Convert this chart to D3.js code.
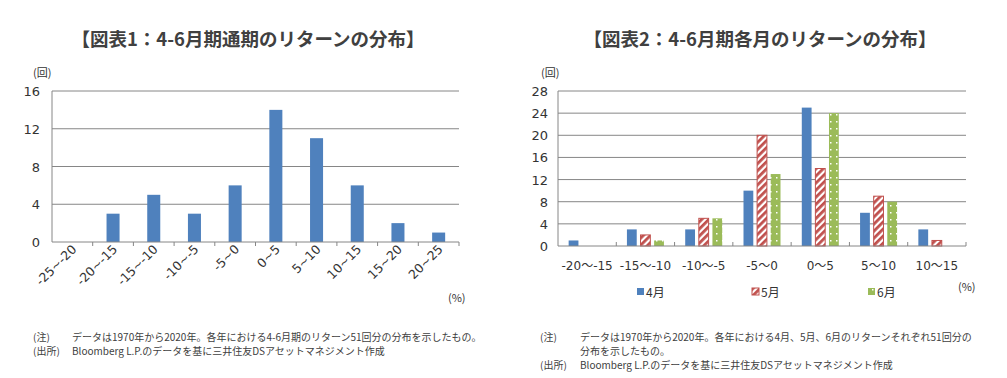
<!DOCTYPE html>
<html>
<head>
<meta charset="utf-8">
<script src="https://cdn.jsdelivr.net/npm/d3@7"></script>
<style>
  body { margin: 0; background: #fff; }
  text { font-family: "DejaVu Sans", "Noto Sans CJK JP", sans-serif; fill: #333; }
  .jp { font-family: "Noto Sans CJK JP", sans-serif; }
</style>
</head>
<body>
<script>
// chart 1 data
const cats1 = ["-25~-20", "-20~-15", "-15~-10", "-10~-5", "-5~0", "0~5", "5~10", "10~15", "15~20", "20~25"];
const counts1 = [0, 3, 5, 3, 6, 14, 11, 6, 2, 1];
const ticks1 = [0, 4, 8, 12, 16];

// chart 2 data
const cats2 = ["-20～-15", "-15～-10", "-10～-5", "-5～0", "0～5", "5～10", "10～15"];
const months = ["4月", "5月", "6月"];
const april = [1, 3, 3, 10, 25, 6, 3];
const may = [0, 2, 5, 20, 14, 9, 1];
const june = [0, 1, 5, 13, 24, 8, 0];
const ticks2 = [0, 4, 8, 12, 16, 20, 24, 28];

const width = 1007, height = 378;

const svg = d3.select("body").append("svg")
    .attr("width", width)
    .attr("height", height);

const defs = svg.append("defs");
// red diagonal stripes
const hatch = defs.append("pattern")
    .attr("id", "hatch")
    .attr("patternUnits", "userSpaceOnUse")
    .attr("width", 5).attr("height", 5)
    .attr("patternTransform", "rotate(45)");
hatch.append("rect").attr("width", 5).attr("height", 5).attr("fill", "#fff");
hatch.append("rect").attr("width", 2.8).attr("height", 5).attr("fill", "#c0504d");
// green with white dots
const dots = defs.append("pattern")
    .attr("id", "dots")
    .attr("patternUnits", "userSpaceOnUse")
    .attr("width", 6).attr("height", 7);
dots.append("rect").attr("width", 6).attr("height", 7).attr("fill", "#9bbb59");
dots.append("rect").attr("x", 2).attr("y", 2).attr("width", 1.5).attr("height", 1.5).attr("fill", "#fff");

const blue = "#4f81bd";
const grid = "#868686";

// ---------- chart 1 ----------
const x1 = d3.scaleBand().domain(cats1).range([52, 459]);
const y1 = d3.scaleLinear().domain([0, 16]).range([242, 91]);

svg.append("text")
    .attr("class", "jp")
    .attr("x", 248).attr("y", 46)
    .attr("text-anchor", "middle")
    .attr("font-size", 18.5).attr("font-weight", "bold")
    .style("fill", "#404040")
    .text("【図表1：4-6月期通期のリターンの分布】");

const g1 = svg.append("g");
g1.selectAll("line.grid")
    .data(ticks1.slice(1))
    .join("line")
    .attr("x1", 52).attr("x2", 459)
    .attr("y1", d => y1(d)).attr("y2", d => y1(d))
    .attr("stroke", grid);

g1.append("line")
    .attr("x1", 52).attr("x2", 52).attr("y1", 91).attr("y2", 242)
    .attr("stroke", grid);

g1.selectAll("rect")
    .data(counts1)
    .join("rect")
    .attr("x", (d, i) => x1(cats1[i]) + x1.bandwidth() * 0.34)
    .attr("width", x1.bandwidth() * 0.32)
    .attr("y", d => y1(d))
    .attr("height", d => y1(0) - y1(d))
    .attr("fill", blue);

g1.append("line")
    .attr("x1", 52).attr("x2", 459).attr("y1", 242).attr("y2", 242)
    .attr("stroke", grid);

g1.selectAll("line.tick")
    .data(cats1)
    .join("line")
    .attr("x1", (d, i) => 52 + (i + 1) * x1.bandwidth())
    .attr("x2", (d, i) => 52 + (i + 1) * x1.bandwidth())
    .attr("y1", 242).attr("y2", 246)
    .attr("stroke", grid);

g1.selectAll("text.ytick")
    .data(ticks1)
    .join("text")
    .attr("x", 40).attr("y", d => y1(d) + 5)
    .attr("text-anchor", "end")
    .attr("font-size", 13)
    .text(d => d);

g1.selectAll("text.xtick")
    .data(cats1)
    .join("text")
    .attr("text-anchor", "end")
    .attr("font-size", 12.5)
    .attr("transform", d => `translate(${x1(d) + x1.bandwidth() / 2 + 5},${250}) rotate(-45)`)
    .text(d => d);

svg.append("text").attr("class", "jp")
    .attr("x", 33).attr("y", 77).attr("font-size", 11).text("(回)");
svg.append("text").attr("class", "jp")
    .attr("x", 448).attr("y", 302).attr("font-size", 11).text("(%)");

// ---------- chart 2 ----------
const x2 = d3.scaleBand().domain(cats2).range([558, 966]);
const y2 = d3.scaleLinear().domain([0, 28]).range([246, 91]);
const xm = d3.scaleBand().domain(months).range([-18.5, 18.5]).paddingInner(0.28);
const fills = [blue, "url(#hatch)", "url(#dots)"];

svg.append("text")
    .attr("class", "jp")
    .attr("x", 760).attr("y", 46)
    .attr("text-anchor", "middle")
    .attr("font-size", 18.5).attr("font-weight", "bold")
    .style("fill", "#404040")
    .text("【図表2：4-6月期各月のリターンの分布】");

const g2 = svg.append("g");
g2.selectAll("line.grid")
    .data(ticks2.slice(1))
    .join("line")
    .attr("x1", 558).attr("x2", 966)
    .attr("y1", d => y2(d)).attr("y2", d => y2(d))
    .attr("stroke", grid);
g2.append("line")
    .attr("x1", 558).attr("x2", 558).attr("y1", 91).attr("y2", 246)
    .attr("stroke", grid);

const series = [april, may, june];
series.forEach((vals, s) => {
    g2.selectAll("rect.s" + s)
        .data(vals)
        .join("rect")
        .attr("class", "s" + s)
        .attr("x", (d, i) => x2(cats2[i]) + x2.bandwidth() / 2 + xm(months[s]))
        .attr("width", xm.bandwidth())
        .attr("y", d => y2(d))
        .attr("height", d => y2(0) - y2(d))
        .attr("fill", fills[s])
        .attr("stroke", s === 1 ? "#c0504d" : "none")
        .attr("stroke-width", 1)
        .attr("display", d => d > 0 ? null : "none");
});

g2.append("line")
    .attr("x1", 558).attr("x2", 966).attr("y1", 246).attr("y2", 246)
    .attr("stroke", grid);
g2.selectAll("line.tick")
    .data(cats2)
    .join("line")
    .attr("x1", (d, i) => 558 + (i + 1) * x2.bandwidth())
    .attr("x2", (d, i) => 558 + (i + 1) * x2.bandwidth())
    .attr("y1", 242).attr("y2", 246)
    .attr("stroke", grid);

g2.selectAll("text.ytick")
    .data(ticks2)
    .join("text")
    .attr("x", 548).attr("y", d => y2(d) + 5)
    .attr("text-anchor", "end")
    .attr("font-size", 13)
    .text(d => d);

g2.selectAll("text.xtick")
    .data(cats2)
    .join("text")
    .attr("x", d => x2(d) + x2.bandwidth() / 2)
    .attr("y", 270)
    .attr("text-anchor", "middle")
    .attr("font-size", 12)
    .text(d => d);

svg.append("text").attr("class", "jp")
    .attr("x", 541).attr("y", 77).attr("font-size", 11).text("(回)");
svg.append("text").attr("class", "jp")
    .attr("x", 958).attr("y", 291).attr("font-size", 11).text("(%)");

// legend
const legX = [637, 752, 868];
months.forEach((m, s) => {
    svg.append("rect")
        .attr("x", legX[s]).attr("y", 288)
        .attr("width", 7).attr("height", 7)
        .attr("fill", fills[s])
        .attr("stroke", s === 1 ? "#c0504d" : "none");
    svg.append("text").attr("class", "jp")
        .attr("x", legX[s] + 9).attr("y", 297)
        .attr("font-size", 12)
        .text(m);
});

// ---------- notes ----------
const notes = [
    [33, 72, 341, "(注)", "データは1970年から2020年。各年における4-6月期のリターン51回分の分布を示したもの。"],
    [33, 72, 355, "(出所)", "Bloomberg L.P.のデータを基に三井住友DSアセットマネジメント作成"],
    [540, 580, 341, "(注)", "データは1970年から2020年。各年における4月、5月、6月のリターンそれぞれ51回分の"],
    [540, 580, 355, "", "分布を示したもの。"],
    [540, 580, 369, "(出所)", "Bloomberg L.P.のデータを基に三井住友DSアセットマネジメント作成"]
];
notes.forEach(n => {
    svg.append("text").attr("class", "jp")
        .attr("x", n[0]).attr("y", n[2]).attr("font-size", 10)
        .style("fill", "#404040").text(n[3]);
    svg.append("text").attr("class", "jp")
        .attr("x", n[1]).attr("y", n[2]).attr("font-size", 10)
        .style("fill", "#404040").text(n[4]);
});
</script>
</body>
</html>
